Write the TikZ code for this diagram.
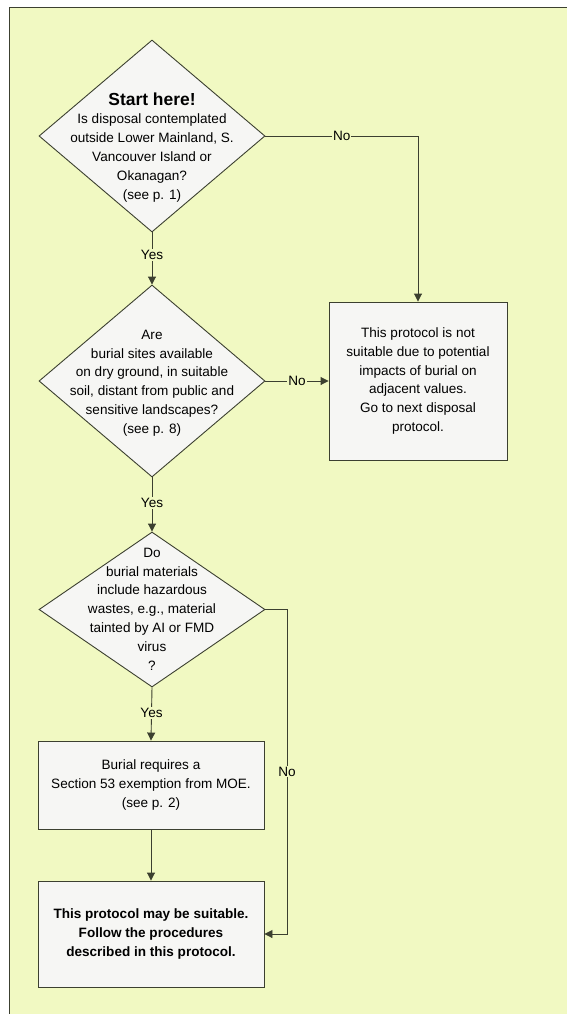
\documentclass[tikz,border=0pt]{standalone}
\usepackage{fontspec}
\setmainfont{Liberation Sans}
\usetikzlibrary{shapes.geometric,arrows.meta}
\definecolor{bgyellow}{HTML}{F1F9C2}
\definecolor{boxfill}{HTML}{F6F6F4}
\definecolor{linecol}{HTML}{3C4030}
\begin{document}
\begin{tikzpicture}[x=1bp,y=-1bp,
  txt/.style={font=\fontsize{13.6}{18.9}\selectfont, align=center, text=black},
  dec/.style={diamond, draw=linecol, line width=0.9bp, fill=boxfill, inner sep=0pt, txt},
  procbox/.style={rectangle, draw=linecol, line width=0.9bp, fill=boxfill, inner sep=0pt, txt},
  conn/.style={draw=linecol, line width=0.9bp},
  arr/.style={conn, -{Triangle[length=8bp,width=8bp]}},
  lbl/.style={fill=bgyellow, inner sep=1bp, txt}
]
\useasboundingbox (0,0) rectangle (567,1014);
\fill[white] (0,0) rectangle (567,1014);
\fill[bgyellow] (9,7) rectangle (570,1020);
\draw[linecol, line width=1bp] (9,1020) -- (9,7) -- (570,7);

% decision 1
\node[dec, minimum width=226bp, minimum height=192bp] (d1) at (152,136) {};
\node[txt, anchor=north] (d1t) at (152,89) {{\fontsize{17.5}{20}\selectfont\bfseries Start here!}\\[0bp]Is disposal contemplated\\outside Lower Mainland, S.\\Vancouver Island or\\Okanagan?\\(see p. 1)};

% decision 2
\node[dec, minimum width=226bp, minimum height=192bp] (d2) at (152,381) {};
\node[txt] (d2t) at (152,383) {Are\\burial sites available\\on dry ground, in suitable\\soil, distant from public and\\sensitive landscapes?\\(see p. 8)};

% decision 3
\node[dec, minimum width=226bp, minimum height=155bp] (d3) at (152,609.5) {};
\node[txt] (d3t) at (152,609) {Do\\burial materials\\include hazardous\\wastes, e.g., material\\tainted by AI or FMD\\virus\\?};

% right box
\node[procbox, minimum width=178bp, minimum height=158bp] (r1) at (418,381) {This protocol is not\\suitable due to potential\\impacts of burial on\\adjacent values.\\Go to next disposal\\protocol.};

% box 2
\node[procbox, minimum width=226bp, minimum height=88bp] (b2) at (151,785) {Burial requires a\\Section 53 exemption from MOE.\\(see p. 2)};

% box 3
\node[procbox, minimum width=226bp, minimum height=106bp, font=\fontsize{13.6}{18.9}\selectfont\bfseries] (b3) at (151,934) {This protocol may be suitable.\\Follow the procedures\\described in this protocol.};

% connectors
\draw[arr] (d1.south) -- (d2.north) node[lbl, pos=0.43] (y1) {Yes};
\draw[arr] (d1.east) -| (r1.north) node[lbl, pos=0.25] (n1) {No};
\draw[arr] (d2.east) -- (r1.west) node[lbl, pos=0.5] (n2) {No};
\draw[arr] (d2.south) -- (d3.north) node[lbl, pos=0.47] (y2) {Yes};
\draw[arr] (d3.south) -- (b2.north) node[lbl, pos=0.48] (y3) {Yes};
\draw[arr] (b2.south) -- (b3.north);
\coordinate (c3) at (287,609.5);
\coordinate (c4) at (287,934);
\draw[arr] (d3.east) -- (c3) -- (c4) node[lbl, pos=0.5] (n3) {No} -- (b3.east);
\end{tikzpicture}
\end{document}
